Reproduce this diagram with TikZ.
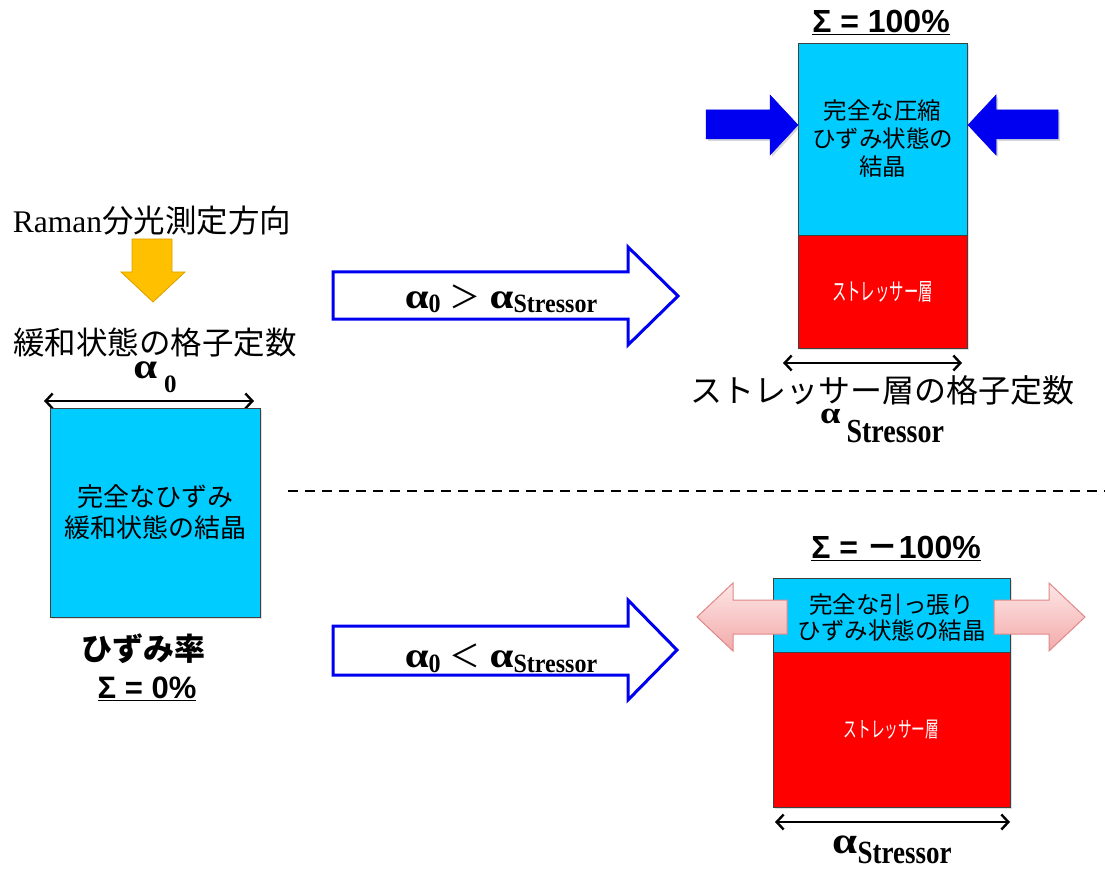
\documentclass[tikz,border=0pt]{standalone}
\usepackage{fontspec}
\setmainfont{Liberation Serif}
\newfontfamily\jp{Noto Sans CJK JP}
\newfontfamily\arial{Liberation Sans}
\usetikzlibrary{arrows.meta,shadows}
\definecolor{cyanbox}{HTML}{00CCFF}
\definecolor{redbox}{HTML}{FF0000}
\definecolor{orng}{HTML}{FFC000}
\definecolor{orngE}{HTML}{D9A000}
\definecolor{pinkA}{HTML}{FDE6E6}
\definecolor{pinkB}{HTML}{F3AAAA}
\definecolor{pinkE}{HTML}{E08888}
\definecolor{bluearr}{HTML}{0000F0}
\newcommand{\fs}[1]{\fontsize{#1}{#1}\selectfont}
\newcommand{\alf}[1]{\scalebox{1.02}[0.85]{\bfseries\fs{#1}α}}
\tikzset{
  crystal/.style={draw=black!75, line width=0.9pt, fill=cyanbox, inner sep=0pt, align=center,
    drop shadow={shadow xshift=2pt, shadow yshift=-2pt, opacity=0.25}},
  stressor/.style={draw=black!75, line width=0.9pt, fill=redbox, inner sep=0pt, align=center,
    text=white, drop shadow={shadow xshift=2pt, shadow yshift=-2pt, opacity=0.25}},
  dimarrow/.style={line width=2.4pt, arrows={Straight Barb[length=7pt,width=15pt]-Straight Barb[length=7pt,width=15pt]}},
  holarrow/.style={draw=bluearr, line width=3pt, fill=white},
  pusharrow/.style={fill=bluearr, draw=bluearr, line width=0.5pt,
    drop shadow={shadow xshift=2pt, shadow yshift=-2pt, opacity=0.3}},
  pullarrow/.style={draw=pinkE, line width=1pt, top color=pinkA, bottom color=pinkB},
  jptext/.style={font=\jp, inner sep=0pt},
  sigma/.style={font=\arial\bfseries, inner sep=0pt},
}
\begin{document}
\begin{tikzpicture}[x=1pt, y=-1pt]
\useasboundingbox (0,0) rectangle (1105,877);

% ---------- left part ----------
\node[inner sep=0pt, font=\fs{31.5}] (raman) at (152,221) {Raman{\jp 分光測定方向}};
\draw[fill=orng, draw=orngE, line width=0.8pt]
  (132,239) -- (172,239) -- (172,272) -- (185,272) -- (153,302) -- (121,272) -- (132,272) -- cycle;
\node[jptext, font=\jp\fs{31.5}] (relax) at (155,343) {緩和状態の格子定数};
\node[anchor=base, inner sep=0pt] (a0) at (155,378)
  {\alf{42}\hspace{7pt}\raisebox{-14pt}{\bfseries\fs{25}0}};
\coordinate (dl1) at (44,401);
\coordinate (dl2) at (254,401);
\draw[dimarrow] (dl1) -- (dl2);
\node[crystal, minimum width=210pt, minimum height=209pt, font=\jp\fontsize{26}{31}\selectfont]
  (relbox) at (155,512.5) {完全なひずみ\\緩和状態の結晶};
\node[jptext, font=\jp\bfseries\fs{31}] (strain) at (143,649) {ひずみ率};
\node[sigma, font=\arial\bfseries\fs{31}] (sig0) at (147,689) {\underline{Σ = 0\%}};

% ---------- dashed separator ----------
\coordinate (ds1) at (288,491);
\coordinate (ds2) at (1105,491);
\draw[line width=2.5pt, dash pattern=on 10pt off 7pt] (ds1) -- (ds2);

% ---------- hollow arrows ----------
\draw[holarrow] (333,272) -- (628,272) -- (628,247) -- (678,296) -- (628,345) -- (628,319) -- (333,319) -- cycle;
\node[anchor=base, inner sep=0pt] (cond1) at (501,308)
  {\alf{42}\raisebox{-5pt}{\scalebox{1}[1.1]{\bfseries\fs{24}0}}\hspace{9pt}{\jp\fs{31}＞}\hspace{9pt}\alf{42}\raisebox{-5pt}{\scalebox{1}[1.1]{\bfseries\fs{24}Stressor}}};
\draw[holarrow] (333,626) -- (628,626) -- (628,600) -- (677,650) -- (628,700) -- (628,675) -- (333,675) -- cycle;
\node[anchor=base, inner sep=0pt] (cond2) at (501,667)
  {\alf{42}\raisebox{-5pt}{\scalebox{1}[1.1]{\bfseries\fs{24}0}}\hspace{9pt}{\jp\fs{31}＜}\hspace{9pt}\alf{42}\raisebox{-5pt}{\scalebox{1}[1.1]{\bfseries\fs{24}Stressor}}};

% ---------- upper right: compression ----------
\node[sigma, font=\arial\bfseries\fs{32}] (sig1) at (881,22) {\underline{Σ = 100\%}};
\node[crystal, minimum width=169pt, minimum height=192pt, font=\jp\fontsize{23.5}{28}\selectfont]
  (compbox) at (882.5,139) {完全な圧縮\\ひずみ状態の\\結晶};
\node[stressor, minimum width=169pt, minimum height=113pt] (str1) at (882.5,291.5)
  {\raisebox{-3pt}{\scalebox{0.6}[1]{\jp\fs{24}ストレッサー層}}};
\draw[pusharrow] (706,110) -- (770,110) -- (770,95) -- (798,125) -- (770,155) -- (770,139) -- (706,139) -- cycle;
\draw[pusharrow] (1058,110) -- (996,110) -- (996,95) -- (968,125) -- (996,155) -- (996,139) -- (1058,139) -- cycle;
\coordinate (dr1) at (783,363);
\coordinate (dr2) at (962,363);
\draw[dimarrow] (dr1) -- (dr2);
\node[jptext, font=\jp\fs{32}] (strlat) at (882,390) {ストレッサー層の格子定数};
\node[anchor=base, inner sep=0pt] (as1) at (882,423)
  {\alf{36}\hspace{6pt}\raisebox{-19pt}{\scalebox{1}[1.2]{\bfseries\fs{28}Stressor}}};

% ---------- lower right: tension ----------
\node[sigma, font=\arial\bfseries\fs{32}] (sig2) at (896,548) {\underline{Σ = {\jp\bfseries －}100\%}};
\node[crystal, minimum width=237pt, minimum height=74pt] (tensbox) at (891.5,615) {};
\node[stressor, minimum width=237pt, minimum height=155pt] (str2) at (891.5,729.5)
  {\raisebox{-3pt}{\scalebox{0.62}[1]{\jp\fs{22}ストレッサー層}}};
\draw[pullarrow] (787,600) -- (733,600) -- (733,583) -- (697,617) -- (733,651) -- (733,634) -- (787,634) -- cycle;
\draw[pullarrow] (994,600) -- (1049,600) -- (1049,583) -- (1085,617) -- (1049,651) -- (1049,634) -- (994,634) -- cycle;
\node[jptext, font=\jp\fontsize{23.5}{26}\selectfont, align=center] (tenstext) at (891.5,618) {完全な引っ張り\\ひずみ状態の結晶};
\coordinate (db1) at (775,822);
\coordinate (db2) at (1010,822);
\draw[dimarrow] (db1) -- (db2);
\node[anchor=base, inner sep=0pt] (as2) at (892,853)
  {\alf{44}\raisebox{-10pt}{\scalebox{1}[1.2]{\bfseries\fs{27}Stressor}}};
\end{tikzpicture}
\end{document}
